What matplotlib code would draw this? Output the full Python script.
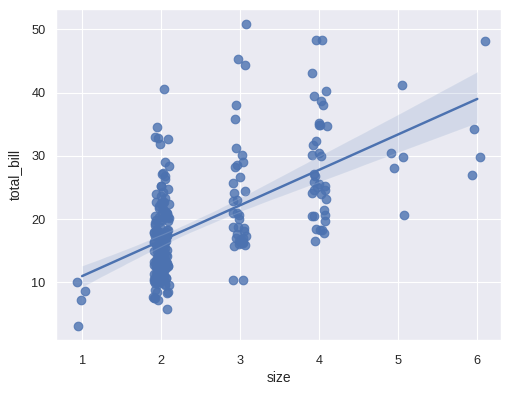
import matplotlib
matplotlib.use("Agg")
import matplotlib.pyplot as plt
import numpy as np
import pandas as pd
import seaborn as sns

# tips dataset: total_bill and party size
total_bill = [
    16.99, 10.34, 21.01, 23.68, 24.59, 25.29, 8.77, 26.88, 15.04, 14.78,
    10.27, 35.26, 15.42, 18.43, 14.83, 21.58, 10.33, 16.29, 16.97, 20.65,
    17.92, 20.29, 15.77, 39.42, 19.82, 17.81, 13.37, 12.69, 21.70, 19.65,
    9.55, 18.35, 15.06, 20.69, 17.78, 24.06, 16.31, 16.93, 18.69, 31.27,
    16.04, 17.46, 13.94, 9.68, 30.40, 18.29, 22.23, 32.40, 28.55, 18.04,
    12.54, 10.29, 34.81, 9.94, 25.56, 19.49, 38.01, 26.41, 11.24, 48.27,
    20.29, 13.81, 11.02, 18.29, 17.59, 20.08, 16.45, 3.07, 20.23, 15.01,
    12.02, 17.07, 26.86, 25.28, 14.73, 10.51, 17.92, 27.20, 22.76, 17.29,
    19.44, 16.66, 10.07, 32.68, 15.98, 34.83, 13.03, 18.28, 24.71, 21.16,
    28.97, 22.49, 5.75, 16.32, 22.75, 40.17, 27.28, 12.03, 21.01, 12.46,
    11.35, 15.38, 44.30, 22.42, 20.92, 15.36, 20.49, 25.21, 18.24, 14.31,
    14.00, 7.25, 38.07, 23.95, 25.71, 17.31, 29.93, 10.65, 12.43, 24.08,
    11.69, 13.42, 14.26, 15.95, 12.48, 29.80, 8.52, 14.52, 11.38, 22.82,
    19.08, 20.27, 11.17, 12.26, 18.26, 8.51, 10.33, 14.15, 16.00, 13.16,
    17.47, 34.30, 41.19, 27.05, 16.43, 8.35, 18.64, 11.87, 9.78, 7.51,
    14.07, 13.13, 17.26, 24.55, 19.77, 29.85, 48.17, 25.00, 13.39, 16.49,
    21.50, 12.66, 16.21, 13.81, 17.51, 24.52, 20.76, 31.71, 10.59, 10.63,
    50.81, 15.81, 7.25, 31.85, 16.82, 32.90, 17.89, 14.48, 9.60, 34.63,
    34.65, 23.33, 45.35, 23.17, 40.55, 20.69, 20.90, 30.46, 18.15, 23.10,
    15.69, 19.81, 28.44, 15.48, 16.58, 7.56, 10.34, 43.11, 13.00, 13.51,
    18.71, 12.74, 13.00, 16.40, 20.53, 16.47, 26.59, 38.73, 24.27, 12.76,
    30.06, 25.89, 48.33, 13.27, 28.17, 12.90, 28.15, 11.59, 7.74, 30.14,
    12.16, 13.42, 8.58, 15.98, 13.42, 16.27, 10.09, 20.45, 13.28, 22.12,
    24.01, 15.69, 11.61, 10.77, 15.53, 10.07, 12.60, 32.83, 35.83, 29.03,
    27.18, 22.67, 17.82, 18.78,
]
size = [
    2, 3, 3, 2, 4, 4, 2, 4, 2, 2,
    2, 4, 2, 4, 2, 2, 3, 3, 3, 3,
    2, 2, 2, 4, 2, 4, 2, 2, 2, 2,
    2, 4, 2, 4, 2, 3, 3, 3, 3, 3,
    3, 2, 2, 2, 4, 2, 2, 4, 3, 2,
    2, 2, 4, 2, 4, 2, 4, 2, 2, 4,
    2, 2, 2, 4, 3, 3, 2, 1, 2, 2,
    2, 3, 2, 2, 2, 2, 2, 4, 2, 2,
    2, 2, 1, 2, 2, 4, 2, 2, 2, 2,
    2, 2, 2, 2, 2, 4, 2, 2, 2, 2,
    2, 2, 3, 2, 2, 2, 2, 2, 2, 2,
    2, 1, 3, 2, 3, 2, 4, 2, 2, 4,
    2, 2, 2, 2, 2, 6, 2, 2, 2, 3,
    2, 2, 2, 2, 2, 2, 2, 2, 2, 2,
    2, 6, 5, 6, 2, 2, 3, 2, 2, 2,
    2, 2, 3, 4, 4, 5, 6, 4, 2, 4,
    4, 2, 3, 2, 2, 3, 2, 4, 2, 2,
    3, 2, 2, 2, 2, 2, 2, 2, 2, 2,
    4, 2, 3, 4, 2, 5, 3, 5, 3, 3,
    2, 2, 2, 2, 2, 2, 2, 4, 2, 2,
    3, 2, 2, 2, 4, 3, 3, 4, 2, 2,
    3, 4, 4, 2, 3, 2, 5, 2, 2, 4,
    2, 2, 1, 3, 2, 2, 2, 4, 2, 2,
    4, 3, 2, 2, 2, 2, 2, 2, 3, 3,
    2, 2, 2, 2,
]
assert len(total_bill) == len(size) == 244

sns.set_theme()
plt.rcParams["font.family"] = ["Liberation Sans", "DejaVu Sans"]

tips = pd.DataFrame({"total_bill": total_bill, "size": size})

np.random.seed(3)
fig = plt.figure(figsize=(510 / 80, 393 / 80), dpi=80)
ax = fig.add_axes([0.1098, 0.1349, 0.8726, 0.8421])
sns.regplot(
    x="size", y="total_bill", data=tips, x_jitter=0.1, seed=3, ax=ax,
    scatter_kws={"s": 60}, line_kws={"lw": 2.2},
)
ax.set_xlim(0.67, 6.30)
ax.set_ylim(0.9, 53.2)

ax.tick_params(axis="both", labelsize=11.5)
ax.tick_params(axis="x", pad=plt.rcParams["xtick.major.pad"] + 4)
ax.set_xlabel("size", fontsize=12.5, labelpad=4)
ax.set_ylabel("total_bill", fontsize=12.5, labelpad=8)

fig.savefig("out.png", dpi=80)
